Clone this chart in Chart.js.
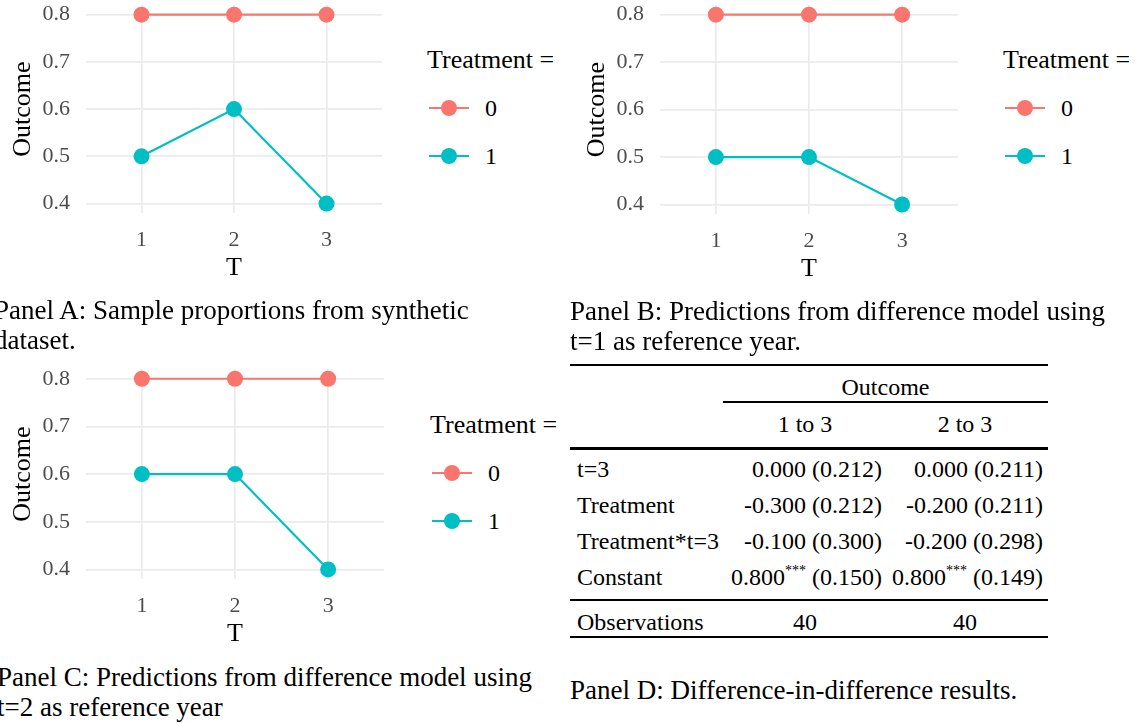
<!DOCTYPE html>
<html>
<head>
<meta charset="utf-8">
<script src="https://cdn.jsdelivr.net/npm/chart.js@4.4.1/dist/chart.umd.min.js"></script>
<style>
  html, body { margin: 0; padding: 0; background: #fff; }
  body { width: 1144px; height: 723px; position: relative; overflow: hidden;
         font-family: 'Liberation Serif', 'Times New Roman', serif; color: #000; }
  canvas { position: absolute; }
  .legend { position: absolute; }
  .legend-title { font-size: 26px; line-height: 30px; white-space: nowrap; }
  .legend-item { display: flex; align-items: center; height: 48px; }
  .legend-item span { font-size: 24px; margin-left: 16px; }
  .caption { position: absolute; font-size: 27px; line-height: 30px; white-space: nowrap; }
  .cell { position: absolute; font-size: 24px; line-height: 28px; white-space: nowrap; }
  .stars { font-size: 14px; position: relative; top: -10px; }
  .rule { position: absolute; background: #000; }
</style>
</head>
<body>
<canvas id="panelA"></canvas>
<canvas id="panelB"></canvas>
<canvas id="panelC"></canvas>

<div class="caption" style="left:-6px; top:295px;">Panel A: Sample proportions from synthetic<br>dataset.</div>
<div class="caption" style="left:570px; top:296px;">Panel B: Predictions from difference model using<br>t=1 as reference year.</div>
<div class="caption" style="left:-3px; top:662px;">Panel C: Predictions from difference model using<br>t=2 as reference year</div>
<div class="caption" style="left:570px; top:675px;">Panel D: Difference-in-difference results.</div>

<script>
// ---- data ----
const timePoints = [1, 2, 3];
const treatmentGroups = ['0', '1'];
const groupColors = ['#F8766D', '#00BFC4'];

const panelAControl = [0.8, 0.8, 0.8];
const panelATreated = [0.5, 0.6, 0.4];
const panelBControl = [0.8, 0.8, 0.8];
const panelBTreated = [0.5, 0.5, 0.4];
const panelCControl = [0.8, 0.8, 0.8];
const panelCTreated = [0.6, 0.6, 0.4];

const yMajorTicks = [0.4, 0.5, 0.6, 0.7, 0.8];
const yMinorTicks = [0.45, 0.55, 0.65, 0.75];

// regression table (Panel D)
const modelNames = ['1 to 3', '2 to 3'];
const termNames = ['t=3', 'Treatment', 'Treatment*t=3', 'Constant'];
const model1Coef = [0.000, -0.300, -0.100, 0.800];
const model1SE = [0.212, 0.212, 0.300, 0.150];
const model2Coef = [0.000, -0.200, -0.200, 0.800];
const model2SE = [0.211, 0.211, 0.298, 0.149];
const coefStars = ['', '', '', '***'];
const observations = [40, 40];

const FONT = "'Liberation Serif', 'Times New Roman', serif";

function panelConfig(control, treated, padTop, padRight, yAxisW, xAxisH) {
  return {
    type: 'line',
    data: {
      datasets: [control, treated].map((vals, i) => ({
        label: treatmentGroups[i],
        data: timePoints.map((t, j) => ({ x: t, y: vals[j] })),
        borderColor: groupColors[i],
        backgroundColor: groupColors[i],
        borderWidth: 2.2,
        pointRadius: 8,
        pointHoverRadius: 8,
        pointBorderWidth: 0,
        tension: 0
      }))
    },
    options: {
      responsive: false,
      animation: false,
      devicePixelRatio: 1,
      layout: { padding: { top: padTop, right: padRight, left: 0, bottom: 0 } },
      plugins: { legend: { display: false }, tooltip: { enabled: false } },
      scales: {
        x: {
          type: 'linear', min: 0.4, max: 3.6,
          afterBuildTicks: s => { s.ticks = timePoints.map(v => ({ value: v })); },
          afterFit: s => { s.height = xAxisH; },
          grid: { color: '#ebebeb', lineWidth: 1.7, drawTicks: false },
          border: { display: false },
          ticks: { padding: 14, color: '#4d4d4d', font: { family: FONT, size: 22 }, callback: v => String(v) },
          title: { display: true, text: 'T', color: '#000', font: { family: FONT, size: 26 }, padding: { top: 0, bottom: 1 } }
        },
        y: {
          min: 0.38, max: 0.82,
          afterBuildTicks: s => {
            s.ticks = [...yMajorTicks, ...yMinorTicks].sort((a, b) => a - b).map(v => ({ value: v }));
          },
          afterFit: s => { s.width = yAxisW; },
          grid: {
            color: '#ebebeb', drawTicks: false,
            lineWidth: ctx => (ctx.tick && yMajorTicks.includes(ctx.tick.value)) ? 1.7 : 1.3
          },
          border: { display: false },
          ticks: {
            padding: 16, color: '#4d4d4d', font: { family: FONT, size: 22 },
            callback: v => yMajorTicks.includes(v) ? v.toFixed(1) : ''
          },
          title: { display: true, text: 'Outcome', color: '#000', font: { family: FONT, size: 26 }, padding: { top: 8, bottom: 0 } }
        }
      }
    }
  };
}

function makePanel(id, box, control, treated, legendPos) {
  const canvas = document.getElementById(id);
  const yAxisW = 86, padTop = 20, xAxisH = 72, padRight = 10;
  canvas.width = yAxisW + box.w + padRight;
  canvas.height = padTop + box.h + xAxisH;
  let chart = new Chart(canvas, panelConfig(control, treated, padTop, padRight, yAxisW, xAxisH));

  // the top tick label pushes the plot area down; rebuild on a taller canvas so the plot keeps its box
  const extra = Math.round(chart.chartArea.top - padTop);
  if (extra > 0) {
    chart.destroy();
    canvas.width = yAxisW + box.w + padRight;
    canvas.height = padTop + extra + box.h + xAxisH;
    chart = new Chart(canvas, panelConfig(control, treated, padTop, padRight, yAxisW, xAxisH));
  }
  canvas.style.left = (box.x - yAxisW) + 'px';
  canvas.style.top = (box.y - chart.chartArea.top) + 'px';

  // html legend built from the chart's datasets (line + point key)
  const lg = document.createElement('div');
  lg.className = 'legend';
  lg.style.left = legendPos.x + 'px';
  lg.style.top = (legendPos.y - 15) + 'px';
  const title = document.createElement('div');
  title.className = 'legend-title';
  title.textContent = 'Treatment =';
  title.style.marginBottom = '9px';
  lg.appendChild(title);
  chart.data.datasets.forEach(ds => {
    const item = document.createElement('div');
    item.className = 'legend-item';
    item.innerHTML =
      '<svg width="40" height="20" style="margin-left:2px">' +
      '<line x1="0" y1="10" x2="40" y2="10" stroke="' + ds.borderColor + '" stroke-width="2.2"/>' +
      '<circle cx="20" cy="10" r="8" fill="' + ds.backgroundColor + '"/></svg>' +
      '<span>' + ds.label + '</span>';
    lg.appendChild(item);
  });
  document.body.appendChild(lg);
  return chart;
}

makePanel('panelA', { x: 86, y: 5.5, w: 296, h: 208 }, panelAControl, panelATreated, { x: 427, y: 60 });
makePanel('panelB', { x: 660, y: 5.5, w: 298, h: 209 }, panelBControl, panelBTreated, { x: 1003, y: 60 });
makePanel('panelC', { x: 86, y: 369.5, w: 298, h: 210 }, panelCControl, panelCTreated, { x: 430, y: 425 });

// ---- Panel D table ----
function addCell(html, cy, opts) {
  const d = document.createElement('div');
  d.className = 'cell';
  d.innerHTML = html;
  d.style.top = (cy - 14) + 'px';
  if (opts.left !== undefined) d.style.left = opts.left + 'px';
  if (opts.right !== undefined) d.style.right = (1144 - opts.right) + 'px';
  if (opts.center !== undefined) { d.style.left = opts.center + 'px'; d.style.transform = 'translateX(-50%)'; }
  document.body.appendChild(d);
}
function addRule(x1, x2, y, h) {
  const r = document.createElement('div');
  r.className = 'rule';
  r.style.left = x1 + 'px'; r.style.width = (x2 - x1) + 'px';
  r.style.top = (y - h / 2) + 'px'; r.style.height = h + 'px';
  document.body.appendChild(r);
}
const tblLeft = 570, tblRight = 1048, groupLeft = 723;
const labelX = 577, colRight = [882, 1043], colCenter = [805, 965];
const fmt = (c, s, star) => c.toFixed(3) + (star ? '<span class="stars">' + star + '</span>' : '') + ' (' + s.toFixed(3) + ')';

addRule(tblLeft, tblRight, 365, 1.5);
addCell('Outcome', 387, { center: (groupLeft + tblRight) / 2 });
addRule(groupLeft, tblRight, 402, 1.5);
modelNames.forEach((m, i) => addCell(m, 424, { center: colCenter[i] }));
addRule(tblLeft, tblRight, 448, 3);
termNames.forEach((t, i) => {
  const cy = 469 + 36 * i;
  addCell(t, cy, { left: labelX });
  addCell(fmt(model1Coef[i], model1SE[i], coefStars[i]), cy, { right: colRight[0] });
  addCell(fmt(model2Coef[i], model2SE[i], coefStars[i]), cy, { right: colRight[1] });
});
addRule(tblLeft, tblRight, 600, 2);
addCell('Observations', 622, { left: labelX });
observations.forEach((n, i) => addCell(String(n), 622, { center: colCenter[i] }));
addRule(tblLeft, tblRight, 637, 1.5);
</script>
</body>
</html>
